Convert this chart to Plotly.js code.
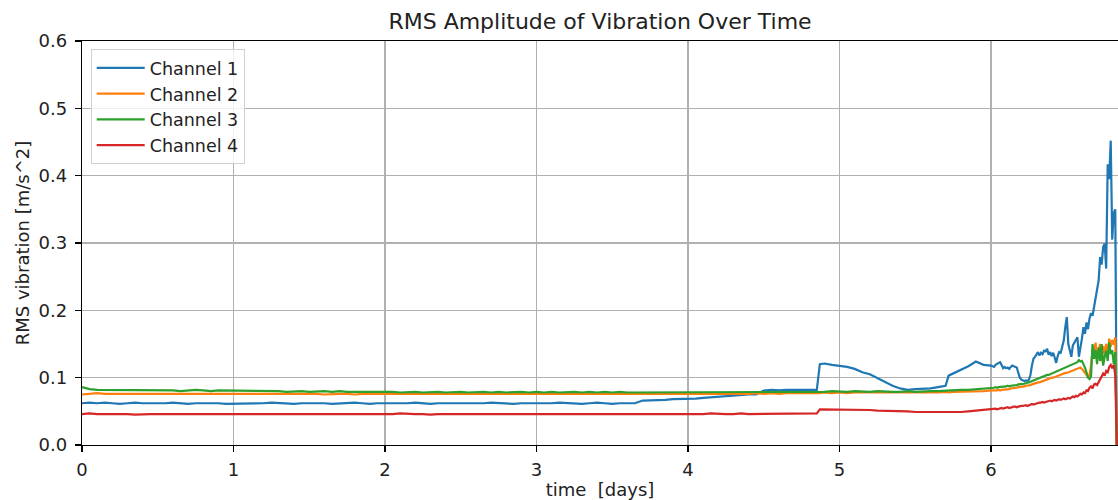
<!DOCTYPE html>
<html>
<head>
<meta charset="utf-8">
<script src="https://cdn.plot.ly/plotly-3.0.1.min.js"></script>
<style>html,body{margin:0;padding:0;background:#fff;}#chart{width:1118px;height:500px;}</style>
</head>
<body>
<div id="chart"></div>
<script>
// time in days
const timeDays = [
0,0.05,0.1,0.15,0.2,0.25,0.3,0.35,0.4,0.45,
0.5,0.55,0.6,0.65,0.7,0.75,0.8,0.85,0.9,0.95,
1.0,1.05,1.1,1.15,1.2,1.25,1.3,1.35,1.4,1.45,
1.5,1.55,1.6,1.65,1.7,1.75,1.8,1.85,1.9,1.95,
2.0,2.05,2.1,2.15,2.2,2.25,2.3,2.35,2.4,2.45,
2.5,2.55,2.6,2.65,2.7,2.75,2.8,2.85,2.9,2.95,
3.0,3.05,3.1,3.15,3.2,3.25,3.3,3.35,3.4,3.45,
3.5,3.55,3.6,3.65,3.7,3.75,3.8,3.85,3.9,3.95,
4.0,4.05,4.1,4.15,4.2,4.25,4.3,4.35,4.4,4.45,
4.5,4.55,4.6,4.65,4.7,4.75,4.8,4.85,
4.87,4.9,4.95,5.0,5.05,5.1,5.15,5.2,5.25,5.3,5.35,5.4,5.45,5.5,5.55,5.6,5.65,5.7,
5.72,5.75,5.8,5.85,5.9,5.95,6.0,
6.01,6.02,6.03,6.04,6.05,6.06,6.07,6.08,6.09,6.1,
6.11,6.12,6.13,6.14,6.15,6.16,6.17,6.18,6.19,6.2,
6.21,6.22,6.23,6.24,6.25,6.26,6.27,6.28,6.29,6.3,
6.31,6.32,6.33,6.34,6.35,6.36,6.37,6.38,6.39,6.4,
6.41,6.42,6.43,6.44,6.45,6.46,6.47,6.48,6.49,6.5,
6.51,6.52,6.53,6.54,6.55,6.56,6.57,6.58,6.59,6.6,
6.61,6.62,6.63,6.64,6.65,6.66,6.67,6.68,6.69,6.7,
6.71,6.72,6.73,6.74,6.75,6.76,6.77,6.78,6.79,6.8,
6.81,6.82,6.83
];

const channel1 = [
0.062,0.063,0.062,0.063,0.062,0.061,0.062,0.063,0.062,0.062,
0.061,0.062,0.063,0.062,0.061,0.062,0.062,0.063,0.062,0.061,
0.061,0.062,0.062,0.061,0.062,0.063,0.062,0.062,0.061,0.062,
0.062,0.063,0.062,0.061,0.062,0.062,0.063,0.062,0.061,0.062,
0.062,0.061,0.062,0.062,0.063,0.062,0.061,0.062,0.062,0.061,
0.062,0.062,0.061,0.062,0.063,0.062,0.062,0.061,0.062,0.062,
0.062,0.061,0.062,0.063,0.062,0.062,0.061,0.062,0.063,0.062,
0.061,0.062,0.062,0.062,0.066,0.066,0.067,0.067,0.068,0.068,
0.069,0.069,0.070,0.071,0.071,0.072,0.073,0.074,0.075,0.075,
0.081,0.082,0.081,0.082,0.082,0.081,0.082,0.082,
0.120,0.121,0.119,0.118,0.116,0.113,0.108,0.105,0.099,0.093,0.088,0.084,0.082,0.083,0.083,0.084,0.086,0.088,
0.103,0.106,0.111,0.117,0.124,0.119,0.118,
0.117,0.116,0.119,0.121,0.122,0.123,0.118,0.114,0.116,0.114,
0.115,0.113,0.116,0.118,0.117,0.116,0.115,0.107,0.100,0.097,
0.096,0.095,0.096,0.095,0.097,0.104,0.118,0.128,0.131,0.134,
0.138,0.133,0.137,0.135,0.140,0.139,0.143,0.134,0.138,0.132,
0.137,0.130,0.122,0.132,0.138,0.137,0.145,0.155,0.175,0.190,
0.150,0.140,0.131,0.148,0.152,0.156,0.160,0.131,0.142,0.158,
0.175,0.165,0.182,0.172,0.188,0.196,0.192,0.205,0.212,0.225,
0.244,0.279,0.268,0.294,0.299,0.262,0.417,0.395,0.452,0.305,
0.345,0.350,0
];

const channel2 = [
0.075,0.076,0.077,0.076,0.076,0.077,0.076,0.076,0.077,0.076,
0.076,0.077,0.076,0.076,0.077,0.076,0.076,0.076,0.077,0.076,
0.076,0.076,0.077,0.076,0.076,0.076,0.077,0.076,0.076,0.076,
0.076,0.076,0.075,0.076,0.076,0.076,0.075,0.076,0.076,0.075,
0.076,0.075,0.076,0.076,0.075,0.076,0.075,0.076,0.076,0.075,
0.075,0.076,0.075,0.076,0.075,0.075,0.076,0.075,0.075,0.076,
0.075,0.075,0.076,0.075,0.075,0.075,0.076,0.075,0.075,0.075,
0.075,0.076,0.075,0.075,0.075,0.076,0.075,0.075,0.076,0.075,
0.075,0.076,0.075,0.076,0.076,0.075,0.076,0.076,0.076,0.077,
0.076,0.077,0.076,0.077,0.077,0.076,0.077,0.077,
0.077,0.078,0.077,0.078,0.077,0.078,0.078,0.077,0.078,0.078,0.077,0.078,0.078,0.077,0.078,0.078,0.078,0.079,
0.078,0.079,0.079,0.079,0.080,0.080,0.081,
0.081,0.080,0.081,0.081,0.082,0.081,0.082,0.082,0.082,0.083,
0.083,0.083,0.084,0.084,0.084,0.085,0.085,0.086,0.086,0.086,
0.087,0.087,0.088,0.088,0.089,0.089,0.090,0.091,0.091,0.092,
0.093,0.093,0.094,0.095,0.096,0.097,0.097,0.098,0.099,0.100,
0.100,0.101,0.102,0.103,0.103,0.104,0.105,0.106,0.107,0.107,
0.108,0.109,0.110,0.110,0.111,0.112,0.113,0.114,0.115,0.113,
0.110,0.106,0.103,0.101,0.104,0.118,0.142,0.138,0.152,0.128,
0.142,0.150,0.124,0.147,0.136,0.150,0.133,0.158,0.146,0.156,
0.149,0.160,0
];

const channel3 = [
0.086,0.083,0.082,0.082,0.081,0.082,0.081,0.082,0.081,0.081,
0.082,0.081,0.081,0.080,0.081,0.082,0.081,0.080,0.081,0.081,
0.081,0.080,0.081,0.080,0.080,0.081,0.080,0.079,0.080,0.080,
0.079,0.080,0.080,0.079,0.080,0.079,0.079,0.080,0.079,0.080,
0.080,0.079,0.078,0.079,0.079,0.078,0.079,0.079,0.078,0.079,
0.079,0.078,0.079,0.079,0.078,0.079,0.078,0.079,0.079,0.078,
0.079,0.078,0.079,0.078,0.079,0.079,0.078,0.079,0.078,0.079,
0.078,0.079,0.078,0.078,0.079,0.078,0.079,0.078,0.078,0.079,
0.078,0.079,0.078,0.079,0.078,0.078,0.079,0.078,0.079,0.078,
0.079,0.078,0.079,0.078,0.079,0.079,0.078,0.079,
0.079,0.079,0.080,0.079,0.079,0.080,0.079,0.079,0.080,0.079,0.079,0.079,0.080,0.079,0.080,0.080,0.080,0.081,
0.081,0.081,0.082,0.082,0.083,0.083,0.084,
0.085,0.085,0.086,0.085,0.086,0.086,0.087,0.086,0.087,0.087,
0.088,0.087,0.088,0.088,0.089,0.089,0.089,0.090,0.090,0.090,
0.091,0.091,0.092,0.092,0.093,0.094,0.095,0.096,0.096,0.097,
0.098,0.099,0.100,0.101,0.102,0.103,0.104,0.104,0.105,0.106,
0.107,0.108,0.108,0.109,0.110,0.111,0.112,0.113,0.114,0.116,
0.116,0.117,0.118,0.119,0.120,0.121,0.123,0.126,0.124,0.125,
0.121,0.115,0.108,0.100,0.098,0.102,0.150,0.128,0.141,0.120,
0.145,0.125,0.150,0.118,0.131,0.140,0.125,0.152,0.135,0.141,
0.120,0.138,0
];

const channel4 = [
0.046,0.047,0.046,0.046,0.047,0.046,0.046,0.045,0.046,0.046,
0.046,0.046,0.045,0.046,0.046,0.046,0.045,0.046,0.046,0.046,
0.046,0.045,0.046,0.046,0.046,0.045,0.046,0.046,0.046,0.046,
0.045,0.046,0.046,0.046,0.046,0.045,0.046,0.046,0.046,0.045,
0.046,0.046,0.047,0.046,0.046,0.046,0.045,0.046,0.046,0.046,
0.046,0.045,0.046,0.046,0.046,0.045,0.046,0.046,0.045,0.046,
0.046,0.046,0.045,0.046,0.046,0.046,0.045,0.046,0.046,0.046,
0.046,0.045,0.046,0.046,0.046,0.046,0.045,0.046,0.046,0.046,
0.046,0.046,0.046,0.047,0.046,0.046,0.046,0.047,0.046,0.046,
0.046,0.047,0.046,0.046,0.047,0.046,0.047,0.047,
0.053,0.053,0.053,0.053,0.052,0.052,0.052,0.052,0.051,0.051,0.050,0.050,0.050,0.049,0.049,0.048,0.048,0.048,
0.048,0.049,0.049,0.050,0.051,0.052,0.053,
0.053,0.053,0.054,0.053,0.054,0.054,0.055,0.054,0.055,0.055,
0.056,0.055,0.056,0.056,0.057,0.057,0.056,0.057,0.058,0.058,
0.058,0.059,0.059,0.058,0.059,0.060,0.061,0.060,0.061,0.062,
0.062,0.063,0.063,0.064,0.063,0.064,0.065,0.065,0.066,0.065,
0.066,0.067,0.066,0.067,0.068,0.067,0.068,0.069,0.068,0.069,
0.070,0.069,0.071,0.072,0.071,0.073,0.072,0.074,0.076,0.075,
0.078,0.077,0.081,0.080,0.085,0.087,0.084,0.090,0.091,0.089,
0.093,0.097,0.101,0.106,0.103,0.110,0.108,0.116,0.119,0.114,
0.119,0.104,0
];

const seriesNames = ['Channel 1','Channel 2','Channel 3','Channel 4'];
const seriesColors = ['#1f77b4','#ff7f0e','#2ca02c','#d62728'];
const xTicks = [0,1,2,3,4,5,6];
const yTicks = [0,0.1,0.2,0.3,0.4,0.5,0.6];
const yTickText = ['0.0','0.1','0.2','0.3','0.4','0.5','0.6'];

const values = [channel1, channel2, channel3, channel4];
const traces = values.map((v, i) => ({
  x: timeDays, y: v, type: 'scatter', mode: 'lines', name: seriesNames[i],
  line: {color: seriesColors[i], width: 2.2}
}));

const fontFam = 'DejaVu Sans, sans-serif';
const txtCol = '#222';
const layout = {
  width: 1118, height: 500,
  margin: {l: 82, r: 0, t: 41, b: 55, pad: 0},
  paper_bgcolor: '#fff', plot_bgcolor: '#fff',
  font: {family: fontFam, size: 18, color: txtCol},
  title: {text: 'RMS Amplitude of Vibration Over Time', font: {family: fontFam, size: 22, color: txtCol},
          x: 0.5367, xanchor: 'center', y: 0.958, yanchor: 'middle', xref: 'container'},
  showlegend: true,
  legend: {x: 0.0084, y: 0.98, xanchor: 'left', yanchor: 'top', bgcolor: 'rgba(255,255,255,0.8)',
           bordercolor: '#d0d0d0', borderwidth: 1, itemwidth: 48,
           font: {family: fontFam, size: 17.5, color: txtCol}},
  xaxis: {
    range: [0, 6.838], tickmode: 'array', tickvals: xTicks, ticktext: xTicks.map(String),
    showgrid: true, gridcolor: '#b0b0b0', gridwidth: 1.2, zeroline: false,
    showline: true, linecolor: '#000', linewidth: 1.2, mirror: true,
    ticks: 'outside', ticklen: 6, tickwidth: 1.2, tickcolor: '#000', ticklabelstandoff: 2,
    tickfont: {family: fontFam, size: 18, color: txtCol},
    title: {text: 'time \u00a0[days]', font: {family: fontFam, size: 18, color: txtCol}, standoff: 4}
  },
  yaxis: {
    range: [0, 0.6], tickmode: 'array', tickvals: yTicks, ticktext: yTickText,
    showgrid: true, gridcolor: '#b0b0b0', gridwidth: 1.2, zeroline: false,
    showline: true, linecolor: '#000', linewidth: 1.2, mirror: false,
    ticks: 'outside', ticklen: 6, tickwidth: 1.2, tickcolor: '#000', ticklabelstandoff: 4,
    tickfont: {family: fontFam, size: 18, color: txtCol},
    title: {text: 'RMS vibration [m/s^2]', font: {family: fontFam, size: 18, color: txtCol}, standoff: 4}
  }
};

Plotly.newPlot('chart', traces, layout, {displayModeBar: false, staticPlot: true});
</script>
</body>
</html>
